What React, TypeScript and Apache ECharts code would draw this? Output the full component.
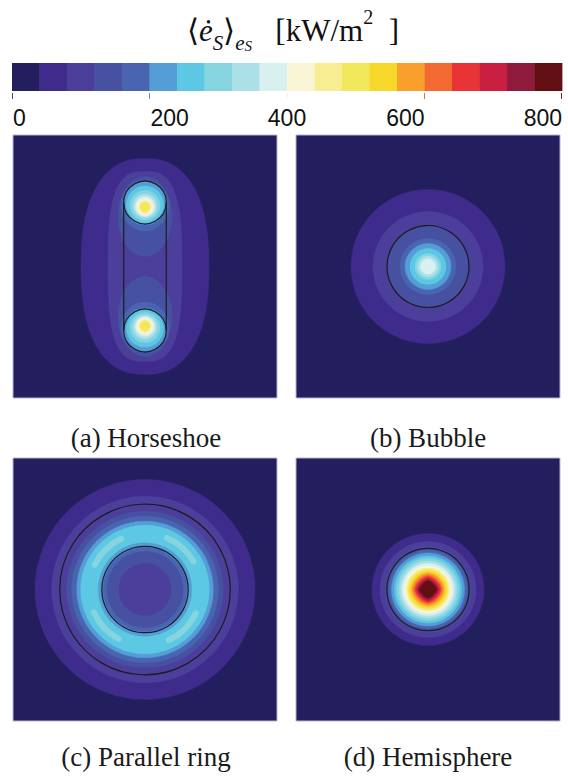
import React, { useEffect, useRef } from 'react';
import * as echarts from 'echarts';

// ---- colour scale: 20 bins of 40 kW/m^2 from 0 to 800 ----
const levelBounds = [0, 40, 80, 120, 160, 200, 240, 280, 320, 360, 400, 440, 480, 520, 560, 600, 640, 680, 720, 760, 800];
const binColors = [
  '#231f5e', '#3f2b8b', '#4b3f9b', '#4651a1', '#4964b0',
  '#549dd6', '#5dc8e4', '#86d4e0', '#abe0e9', '#d9f0f0',
  '#faf6d5', '#f7ee93', '#f2e85c', '#f6d82a', '#f9a02c',
  '#f26a32', '#e93437', '#c81e40', '#8e1a3c', '#620f14',
];
const tickValues = [0, 200, 400, 600, 800];
const tickLabels = ['0', '200', '400', '600', '800'];
const panelCaptions = ['(a) Horseshoe', '(b) Bubble', '(c) Parallel ring', '(d) Hemisphere'];

// ---- filled contour bands per panel: [bin, cx, cy, rx, ry, exponent] (drawn low -> high) ----
const horseshoeBands = [
  [2, 0, 0, 64, 108, 2.4],
  [3, 0, 0, 37, 95, 3],
  [4, 0, 50, 27, 40, 2],
  [4, 0, -50, 27, 40, 2],
  [5, 0, 61, 24, 25.5, 2],
  [5, 0, -61, 24, 25.5, 2],
  [6, 0, 63, 21.5, 21.5, 2],
  [6, 0, -63, 21.5, 21.5, 2],
  [7, 0, 62, 18.5, 18.5, 2],
  [7, 0, -62, 18.5, 18.5, 2],
  [8, 0, 61, 15, 15, 2],
  [8, 0, -61, 15, 15, 2],
  [9, 0, 60.5, 12, 12, 2],
  [9, 0, -60.5, 12, 12, 2],
  [10, 0, 60, 9.8, 9.8, 2],
  [10, 0, -60, 9.8, 9.8, 2],
  [11, 0, 59.5, 7.8, 7.8, 2],
  [11, 0, -59.5, 7.8, 7.8, 2],
  [12, 0, 59.5, 6.2, 6.2, 2],
  [12, 0, -59.5, 6.2, 6.2, 2],
  [13, 0, 59.5, 4.8, 4.8, 2],
  [13, 0, -59.5, 4.8, 4.8, 2],
];
const bubbleBands = [
  [2, 0, 0, 77, 77, 2],
  [3, 0, 0, 55, 55, 2],
  [4, 0, 0, 40.5, 40.5, 2],
  [5, 0, 0, 28, 28, 2],
  [6, 0, 0, 23, 23, 2],
  [7, 0, 0, 18, 18, 2],
  [8, 0, 0, 13, 13, 2],
  [9, 0, 0, 10.5, 10.5, 2],
  [10, 0, 0, 7.7, 7.7, 2],
];
const ringBands = [
  [2, 0, 0, 110, 110, 2],
  [3, 0, 0, 93.3, 93.3, 2],
  [4, 0, 0, 78.3, 78.3, 2],
  [5, 0, 0, 73.3, 73.3, 2],
  [6, 0, 0, 68.3, 68.3, 2],
  [7, 0, 0, 64.3, 64.3, 2],
  [6, 0, 0, 46.7, 46.7, 2],
  [5, 0, 0, 42, 42, 2],
  [4, 0, 0, 38, 38, 2],
  [3, 0, 0, 26, 26, 2],
];
// crescent patches inside the ring: [bin, innerR, outerR, fromDeg, toDeg]
const ringArcs = [
  [8, 53, 59, 27, 70],
  [8, 53, 59, 112, 157],
  [8, 53, 59, 201, 245],
  [8, 53, 59, 292, 338],
];
const hemisphereBands = [
  [2, 0, 0, 56, 56, 2],
  [3, 0, 0, 48, 48, 2],
  [4, 0, 0, 42.5, 42.5, 2],
  [5, 0, 0, 39, 39, 2],
  [6, 0, 0, 36.5, 36.5, 2],
  [7, 0, 0, 33.5, 33.5, 2],
  [8, 0, 0, 31, 31, 2],
  [9, 0, 0, 28.5, 28.5, 2],
  [10, 0, 0, 26, 26, 2],
  [11, 0, 0, 23.5, 23.5, 2],
  [12, 0, 0, 21.5, 21.5, 2],
  [13, 0, 0, 20, 20, 2],
  [14, 0, 0, 18.5, 18.5, 1.9],
  [15, 0, 0, 16.5, 16.5, 1.8],
  [16, 0, 0, 14.5, 14.5, 1.7],
  [17, 0, 0, 13, 13, 1.6],
  [18, 0, 0, 11.5, 11.5, 1.5],
  [19, 0, 0, 10, 10, 1.5],
  [20, 0, 0, 8.5, 8.5, 1.4],
];

// ---- black electrode outlines: circles [cx, cy, r], segments [x1, y1, x2, y2] ----
const horseshoeCircles = [[0, 64, 21.3], [0, -64, 21.3]];
const horseshoeSegments = [[-21.3, 64, -21.3, -64], [21.3, 64, 21.3, -64]];
const bubbleCircles = [[0, 0, 41]];
const ringCircles = [[0, 0, 85.3], [0, 0, 43.2]];
const hemisphereCircles = [[0, 0, 41.2]];

const tickColors = ['#4b3f9b', '#549dd6', '#efeed8', '#f26a32', '#8e1a3c'];
const tickAlign = ['left', 'left', 'center', 'right', 'right'];

const SERIF = '"Liberation Serif", "Times New Roman", serif';
const SANS = '"Liberation Sans", Arial, Helvetica, sans-serif';

const renderBand = (_p: any, api: any) => {
  const bin = api.value(0);
  const cx = api.value(1), cy = api.value(2), rx = api.value(3), ry = api.value(4), e = api.value(5);
  const pts: number[][] = [];
  const N = 180;
  for (let k = 0; k < N; k++) {
    const t = (k / N) * Math.PI * 2;
    const c = Math.cos(t), s = Math.sin(t);
    pts.push(api.coord([
      cx + rx * Math.sign(c) * Math.pow(Math.abs(c), 2 / e),
      cy + ry * Math.sign(s) * Math.pow(Math.abs(s), 2 / e),
    ]));
  }
  return { type: 'polygon', shape: { points: pts }, style: { fill: binColors[bin - 1], stroke: binColors[bin - 1], lineWidth: 0.4 }, silent: true };
};

const renderCircle = (_p: any, api: any) => {
  const c = api.coord([api.value(0), api.value(1)]);
  const r = api.size([api.value(2), 0])[0];
  return { type: 'circle', shape: { cx: c[0], cy: c[1], r }, style: { fill: 'none', stroke: '#1c1c1c', lineWidth: 1.2 }, silent: true };
};

const renderSegment = (_p: any, api: any) => {
  const a = api.coord([api.value(0), api.value(1)]);
  const b = api.coord([api.value(2), api.value(3)]);
  return { type: 'line', shape: { x1: a[0], y1: a[1], x2: b[0], y2: b[1] }, style: { stroke: '#1c1c1c', lineWidth: 1.2 }, silent: true };
};

const renderArc = (_p: any, api: any) => {
  const bin = api.value(0);
  const c = api.coord([0, 0]);
  const r0 = api.size([api.value(1), 0])[0];
  const r = api.size([api.value(2), 0])[0];
  const from = api.value(3), to = api.value(4);
  return {
    type: 'sector',
    shape: { cx: c[0], cy: c[1], r0, r, startAngle: -to * Math.PI / 180, endAngle: -from * Math.PI / 180, clockwise: true, cornerRadius: 3 },
    style: { fill: binColors[bin - 1] },
    silent: true,
  };
};

const renderColorBin = (_p: any, api: any) => {
  const a = api.coord([api.value(0), 1]);
  const b = api.coord([api.value(1), 0]);
  return { type: 'rect', shape: { x: a[0], y: a[1], width: b[0] - a[0] + 0.4, height: b[1] - a[1] }, style: { fill: binColors[api.value(2)] }, silent: true };
};

const renderTick = (_p: any, api: any) => {
  const i = api.value(1);
  const p = api.coord([api.value(0), 0]);
  const x = Math.min(Math.max(p[0], 12.5), 561.5);
  return {
    type: 'group',
    children: [
      { type: 'line', shape: { x1: x, y1: p[1] + 2, x2: x, y2: p[1] + 8 }, style: { stroke: tickColors[i], lineWidth: 1 } },
      {
        type: 'text',
        x: p[0] + (tickAlign[i] === 'left' ? 1 : 0),
        y: p[1] + 27,
        style: { text: tickLabels[i], font: `23px ${SANS}`, fill: '#111', align: tickAlign[i], verticalAlign: 'middle' },
      },
    ],
    silent: true,
  };
};

const panelGrids = [
  { left: 13, top: 135 },
  { left: 296, top: 135 },
  { left: 13, top: 458 },
  { left: 296, top: 458 },
];
const captionPos = [[146, 438], [428, 438], [146, 757], [428, 757]];

export default function App() {
  const ref = useRef<HTMLDivElement>(null);
  useEffect(() => {
    if (!ref.current) return;
    const chart = echarts.init(ref.current, null, { renderer: 'svg' });
    const panelSets = [
      { bands: horseshoeBands, circles: horseshoeCircles, segments: horseshoeSegments, arcs: [] as number[][] },
      { bands: bubbleBands, circles: bubbleCircles, segments: [] as number[][], arcs: [] as number[][] },
      { bands: ringBands, circles: ringCircles, segments: [] as number[][], arcs: ringArcs },
      { bands: hemisphereBands, circles: hemisphereCircles, segments: [] as number[][], arcs: [] as number[][] },
    ];
    const grids: any[] = [{ left: 12, top: 63, width: 550, height: 28 }];
    const xAxes: any[] = [{ gridIndex: 0, type: 'value', min: 0, max: 800, show: false }];
    const yAxes: any[] = [{ gridIndex: 0, type: 'value', min: 0, max: 1, show: false }];
    panelGrids.forEach((g, k) => {
      grids.push({ left: g.left, top: g.top, width: 264, height: 263, show: true, backgroundColor: binColors[0], borderColor: '#b4b4d2', borderWidth: 1 });
      xAxes.push({ gridIndex: k + 1, type: 'value', min: -132, max: 132, show: false });
      yAxes.push({ gridIndex: k + 1, type: 'value', min: -131.5, max: 131.5, show: false });
    });
    const series: any[] = [
      {
        type: 'custom', xAxisIndex: 0, yAxisIndex: 0, renderItem: renderColorBin, encode: { x: 0, y: 2 },
        data: binColors.map((_c, i) => [levelBounds[i], levelBounds[i + 1], i]),
      },
      {
        type: 'custom', xAxisIndex: 0, yAxisIndex: 0, renderItem: renderTick, encode: { x: 0 }, z: 5,
        data: tickValues.map((v, i) => [v, i]),
      },
    ];
    panelSets.forEach((set, k) => {
      const idx = k + 1;
      series.push({ type: 'custom', xAxisIndex: idx, yAxisIndex: idx, renderItem: renderBand, encode: { x: 1, y: 2 }, data: set.bands, z: 2 });
      if (set.arcs.length) series.push({ type: 'custom', xAxisIndex: idx, yAxisIndex: idx, renderItem: renderArc, encode: { x: 1, y: 2 }, data: set.arcs, z: 3 });
      series.push({ type: 'custom', xAxisIndex: idx, yAxisIndex: idx, renderItem: renderCircle, encode: { x: 0, y: 1 }, data: set.circles, z: 4 });
      if (set.segments.length) series.push({ type: 'custom', xAxisIndex: idx, yAxisIndex: idx, renderItem: renderSegment, encode: { x: 0, y: 1 }, data: set.segments, z: 4 });
    });

    const graphic: any[] = [
      {
        type: 'text', x: 293, y: 30, silent: true,
        style: {
          text: '{b|⟨}{i|ė}{s|S}{b|⟩}{s|e}{ss|S}{b|   [kW/m}{p|2}{b|  ]}',
          align: 'center', verticalAlign: 'middle', textAlign: 'center', textVerticalAlign: 'middle',
          rich: {
            b: { fontFamily: SERIF, fontSize: 31, lineHeight: 46, verticalAlign: 'middle', fill: '#111' },
            i: { fontFamily: SERIF, fontStyle: 'italic', fontSize: 31, lineHeight: 46, verticalAlign: 'middle', fill: '#111' },
            s: { fontFamily: SERIF, fontStyle: 'italic', fontSize: 21, lineHeight: 27, verticalAlign: 'bottom', fill: '#111' },
            ss: { fontFamily: SERIF, fontStyle: 'italic', fontSize: 15, lineHeight: 13, verticalAlign: 'bottom', fill: '#111' },
            p: { fontFamily: SERIF, fontSize: 20, lineHeight: 30, verticalAlign: 'top', fill: '#111' },
          },
        },
      },
    ];
    panelCaptions.forEach((t, k) => {
      graphic.push({
        type: 'text', x: captionPos[k][0], y: captionPos[k][1], silent: true,
        style: { text: t, font: `27px ${SERIF}`, fill: '#1a1a1a', align: 'center', verticalAlign: 'middle', textAlign: 'center', textVerticalAlign: 'middle' },
      });
    });

    chart.setOption({
      animation: false,
      backgroundColor: '#ffffff',
      grid: grids,
      xAxis: xAxes,
      yAxis: yAxes,
      series,
      graphic,
    });
    return () => chart.dispose();
  }, []);
  return <div ref={ref} style={{ position: 'fixed', left: 0, top: 0, width: 568, height: 778, background: '#fff' }} />;
}
